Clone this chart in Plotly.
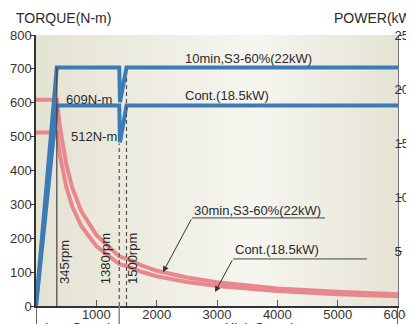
import plotly.graph_objects as go

# ---- data ----
power_rpm = [0, 345, 1380, 1392, 1500, 6000]
power_s3_22kw = [0, 22, 22, 18.8, 22, 22]
power_cont_18kw = [0, 18.5, 18.5, 15.1, 18.5, 18.5]

torque_rpm = [0, 345, 400, 500, 600, 750, 1000, 1200, 1380, 1500, 1750, 2000, 2500,
              3000, 4000, 5000, 6000]
torque_s3_22kw = [609, 609, 525, 420, 350, 280, 210, 175, 146, 140, 120, 104, 84,
                  70, 52, 42, 35]
torque_cont_18kw = [512, 512, 442, 353, 294, 236, 177, 148, 124, 118, 101, 88, 71,
                    59, 44, 35, 29]

x_ticks = [1000, 2000, 3000, 4000, 5000, 6000]
torque_ticks = [0, 100, 200, 300, 400, 500, 600, 700, 800]
power_ticks = [5, 10, 15, 20, 25]

BLUE = "#3B7BB6"
PINK = "#E8878D"
DARK = "#2a2a2a"
FONT = "Liberation Sans, Arial, sans-serif"

fig = go.Figure()

fig.add_trace(go.Scatter(x=power_rpm, y=power_s3_22kw, yaxis="y2", mode="lines",
                         line=dict(color=BLUE, width=4), showlegend=False))
fig.add_trace(go.Scatter(x=power_rpm, y=power_cont_18kw, yaxis="y2", mode="lines",
                         line=dict(color=BLUE, width=4), showlegend=False))
fig.add_trace(go.Scatter(x=torque_rpm, y=torque_s3_22kw, mode="lines",
                         line=dict(color=PINK, width=4), showlegend=False))
fig.add_trace(go.Scatter(x=torque_rpm, y=torque_cont_18kw, mode="lines",
                         line=dict(color=PINK, width=4), showlegend=False))

shapes = []
# background gradient stripes
n = 60
left = (229, 227, 211)
mid = (247, 246, 240)
right = (230, 228, 213)
peak = 0.6
for i in range(n):
    f = (i + 0.5) / n
    if f < peak:
        t = f / peak
        c = tuple(int(left[k] + (mid[k] - left[k]) * t) for k in range(3))
    else:
        t = (f - peak) / (1 - peak)
        c = tuple(int(mid[k] + (right[k] - mid[k]) * t) for k in range(3))
    shapes.append(dict(type="rect", xref="x domain", yref="y domain",
                       x0=i / n, x1=(i + 1) / n + 0.002, y0=0, y1=1,
                       fillcolor="rgb(%d,%d,%d)" % c, line=dict(width=0), layer="below"))

# reference speed lines
shapes.append(dict(type="line", xref="x", yref="y", x0=345, x1=345, y0=0, y1=705,
                   line=dict(color="#444", width=1.2)))
shapes.append(dict(type="line", xref="x", yref="y", x0=1380, x1=1380, y0=0, y1=480,
                   line=dict(color="#555", width=1.2, dash="4px,3px")))
shapes.append(dict(type="line", xref="x", yref="y", x0=1500, x1=1500, y0=0, y1=680,
                   line=dict(color="#555", width=1.2, dash="4px,3px")))
# leader lines
shapes.append(dict(type="line", xref="x", yref="y", x0=2586, x1=4790, y0=260, y1=260,
                   line=dict(color="#444", width=1)))
shapes.append(dict(type="line", xref="x", yref="y", x0=3265, x1=5487, y0=139, y1=139,
                   line=dict(color="#444", width=1)))
# low/high speed separators below axis
for xv, col in [(0, "#333"), (1380, "#888"), (6000, "#333")]:
    shapes.append(dict(type="line", xref="x", yref="paper", x0=xv, x1=xv, y0=0, y1=-0.2,
                       line=dict(color=col, width=1.5)))

annotations = [
    dict(text="TORQUE(N-m)", xref="paper", yref="paper", x=-0.062, y=1.063,
         xanchor="left", yanchor="middle", showarrow=False,
         font=dict(size=14, color=DARK)),
    dict(text="POWER(kW)", xref="paper", yref="paper", x=0.818, y=1.063,
         xanchor="left", yanchor="middle", showarrow=False,
         font=dict(size=14, color=DARK)),
    dict(text="609N-m", x=464, y=609, xanchor="left", yanchor="middle", showarrow=False,
         font=dict(size=13, color=DARK)),
    dict(text="512N-m", x=547, y=499, xanchor="left", yanchor="middle", showarrow=False,
         font=dict(size=13, color=DARK)),
    dict(text="10min,S3-60%(22kW)", x=2440, y=731, xanchor="left", yanchor="middle",
         showarrow=False, font=dict(size=13, color=DARK)),
    dict(text="Cont.(18.5kW)", x=2440, y=622, xanchor="left", yanchor="middle",
         showarrow=False, font=dict(size=13, color=DARK)),
    dict(text="30min,S3-60%(22kW)", x=2590, y=283, xanchor="left", yanchor="middle",
         showarrow=False, font=dict(size=13, color=DARK)),
    dict(text="Cont.(18.5kW)", x=3270, y=168, xanchor="left", yanchor="middle",
         showarrow=False, font=dict(size=13, color=DARK)),
    dict(text="345rpm", x=480, y=130, textangle=-90, showarrow=False,
         font=dict(size=13, color=DARK)),
    dict(text="1380rpm", x=1165, y=139, textangle=-90, showarrow=False,
         font=dict(size=13, color=DARK)),
    dict(text="1500rpm", x=1610, y=139, textangle=-90, showarrow=False,
         font=dict(size=13, color=DARK)),
    # arrows
    dict(text="", x=2105, y=100, ax=2586, ay=260, axref="x", ayref="y",
         showarrow=True, arrowhead=2, arrowsize=1.2, arrowwidth=1, arrowcolor="#333"),
    dict(text="", x=2967, y=41, ax=3265, ay=139, axref="x", ayref="y",
         showarrow=True, arrowhead=2, arrowsize=1.2, arrowwidth=1, arrowcolor="#333"),
    # low / high speed labels (cut off by canvas)
    dict(text="Low Speed", x=690, y=-0.044, xref="x", yref="paper", yanchor="top",
         showarrow=False, font=dict(size=13, color=DARK)),
    dict(text="High Speed", x=3700, y=-0.044, xref="x", yref="paper", yanchor="top",
         showarrow=False, font=dict(size=13, color=DARK)),
]

# page body has an 8px default margin, so margins are offset accordingly
fig.update_layout(
    width=414, height=324,
    margin=dict(l=28, r=24, t=27, b=26, autoexpand=False),
    paper_bgcolor="white",
    plot_bgcolor="rgba(0,0,0,0)",
    font=dict(family=FONT, size=13, color="#333"),
    shapes=shapes,
    annotations=annotations,
    xaxis=dict(range=[0, 6000], tickvals=x_ticks, ticks="inside", ticklen=6,
               tickcolor="#555", showgrid=False, zeroline=False, showline=True,
               automargin=False, ticklabelstandoff=-4,
               linecolor="#333", linewidth=1.5, tickfont=dict(size=13, color="#333")),
    yaxis=dict(range=[0, 800], tickvals=torque_ticks, ticks="outside", ticklen=4,
               tickcolor="#333", showgrid=False, zeroline=False, showline=True,
               automargin=False, ticklabelstandoff=-4,
               linecolor="#333", linewidth=1.5, tickfont=dict(size=13, color="#333")),
    yaxis2=dict(range=[0, 25], tickvals=power_ticks, overlaying="y", side="right",
                ticks="outside", ticklen=3, tickcolor="#333", showgrid=False,
                automargin=False, ticklabelstandoff=-10,
                zeroline=False, showline=True, linecolor="#777", linewidth=1,
                tickfont=dict(size=13, color="#333")),
)

fig.write_html("out.html")
